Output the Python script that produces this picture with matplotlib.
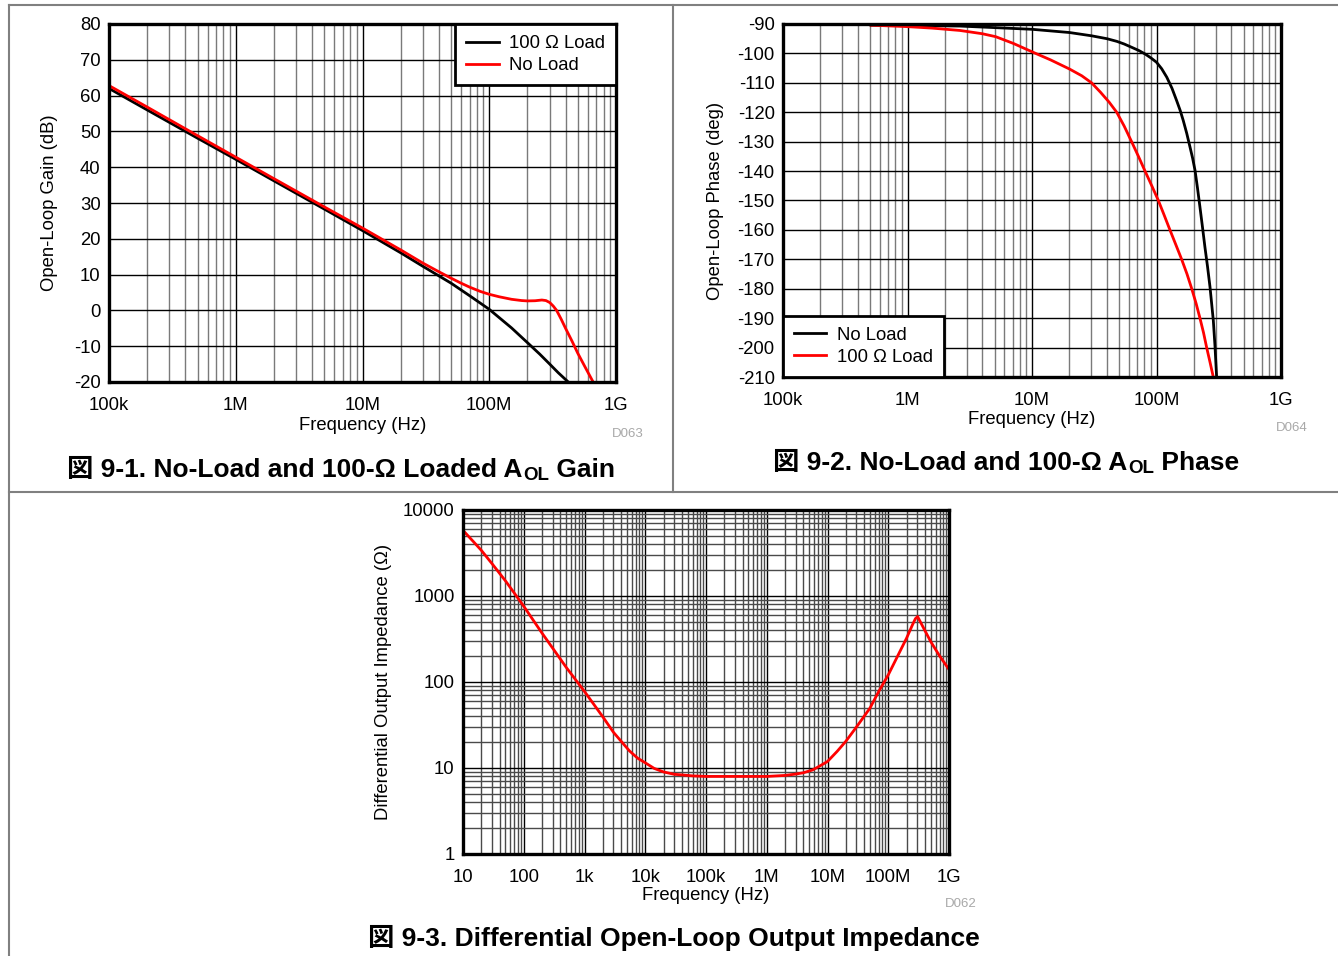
import matplotlib
matplotlib.use("Agg")
import matplotlib.pyplot as plt
from matplotlib.ticker import FixedLocator, NullFormatter, LogLocator
from matplotlib.lines import Line2D

FAM = ['Liberation Sans', 'Noto Sans CJK JP', 'DejaVu Sans']
plt.rcParams['font.family'] = FAM
plt.rcParams['axes.unicode_minus'] = False

# ---------------- data ----------------
# Fig 9-1 : open-loop gain (dB)
gain_freq_100 = [1e5, 2e5, 5e5, 1e6, 2e6, 5e6, 1e7, 2e7, 3e7, 5e7, 7e7, 1e8,
                 1.5e8, 2e8, 2.5e8, 3e8, 3.5e8, 4.2e8]
gain_100ohm = [62.0, 56.0, 48.1, 42.2, 36.2, 28.3, 22.3, 16.1, 12.3, 7.6, 4.1, 0.3,
               -4.9, -9.0, -12.2, -15.0, -17.4, -20.0]
gain_freq_nl = [1e5, 2e5, 5e5, 1e6, 2e6, 5e6, 1e7, 2e7, 3e7, 4e7, 5e7, 6e7, 7e7,
                8.5e7, 1e8, 1.2e8, 1.5e8, 1.8e8, 2e8, 2.3e8, 2.6e8, 2.8e8, 3e8,
                3.2e8, 3.4e8, 3.7e8, 4e8, 4.5e8, 5e8, 5.7e8, 6.6e8]
gain_noload = [62.8, 56.8, 48.8, 42.8, 36.8, 28.9, 23.0, 16.9, 13.2, 10.8, 9.0, 7.6, 6.5,
               5.3, 4.5, 3.8, 3.1, 2.75, 2.65, 2.7, 2.9, 2.75, 2.2,
               1.2, 0.0, -2.5, -5.0, -8.6, -12.0, -15.8, -20.0]

# Fig 9-2 : open-loop phase (deg)
phase_freq_nl = [5.1e5, 1e6, 2.64e6, 1e7, 2e7, 3e7, 4e7, 4.8e7, 5.5e7, 6.3e7, 7.2e7,
                 8.1e7, 9e7, 1e8, 1.1e8, 1.21e8, 1.33e8, 1.45e8, 1.55e8, 1.64e8,
                 1.75e8, 1.86e8, 1.95e8, 2.04e8, 2.13e8, 2.23e8, 2.34e8, 2.45e8,
                 2.57e8, 2.69e8, 2.78e8, 2.86e8, 2.95e8, 3.04e8]
phase_noload = [-90.4, -90.5, -90.7, -91.8, -92.9, -94.0, -95.0, -95.9, -96.8, -97.9,
                -99.0, -100.2, -101.5, -103.0, -105.2, -108.1, -111.8, -116.0,
                -119.4, -122.8, -127.2, -131.9, -135.6, -139.8, -145.5, -152.0,
                -159.0, -165.9, -172.5, -179.4, -185.5, -190.8, -199.5, -210.0]
phase_freq_100 = [5.1e5, 1e6, 1.58e6, 2.64e6, 3.98e6, 5.1e6, 7.08e6, 1.07e7, 1.41e7,
                  2e7, 2.51e7, 3.01e7, 3.55e7, 4.17e7, 4.79e7, 5.5e7, 6.31e7, 7.16e7,
                  8.09e7, 9.12e7, 1.035e8, 1.148e8, 1.282e8, 1.429e8, 1.592e8,
                  1.758e8, 1.919e8, 2.08e8, 2.234e8, 2.388e8, 2.529e8, 2.692e8, 2.858e8]
phase_100ohm = [-90.4, -90.9, -91.4, -92.2, -93.3, -94.3, -96.6, -100.0, -102.2,
                -105.3, -107.6, -110.0, -113.2, -116.6, -120.0, -124.7, -130.0,
                -135.0, -140.0, -144.8, -150.0, -154.8, -160.0, -165.0, -170.0,
                -175.0, -180.0, -185.0, -190.0, -195.0, -200.0, -205.0, -210.0]

# Fig 9-3 : differential output impedance (ohm)
zout_freq = [10, 15, 20, 30, 50, 70, 100, 200, 300, 500, 1e3, 2e3, 3e3, 4e3, 5.5e3,
             7.5e3, 1e4, 1.4e4, 2e4, 3e4, 4.1e4, 6e4, 1e5, 1e6, 2e6, 3e6, 4e6, 5.7e6,
             7.2e6, 1e7, 1.44e7, 2e7, 3e7, 5e7, 7e7, 1e8, 1.5e8, 2e8, 2.5e8, 2.8e8,
             3.04e8, 3.3e8, 4e8, 5e8, 7e8, 1e9]
zout = [5800, 4250, 3400, 2380, 1500, 1080, 760, 370, 247, 148, 77.6, 39.4, 26.0,
        20.5, 15.8, 13.0, 11.5, 9.9, 9.0, 8.45, 8.3, 8.1, 7.98, 7.98, 8.2, 8.5, 8.8,
        9.5, 10.4, 11.9, 15.6, 20.4, 30.0, 49.7, 78.0, 121, 215, 323, 461, 545,
        577, 516, 398, 295, 201, 140]

freq_ticks_12 = [1e5, 1e6, 1e7, 1e8, 1e9]
freq_labels_12 = ['100k', '1M', '10M', '100M', '1G']
gain_ticks = list(range(-20, 81, 10))
phase_ticks = list(range(-210, -89, 10))
freq_ticks_3 = [1e1, 1e2, 1e3, 1e4, 1e5, 1e6, 1e7, 1e8, 1e9]
freq_labels_3 = ['10', '100', '1k', '10k', '100k', '1M', '10M', '100M', '1G']
z_ticks = [1, 10, 100, 1000, 10000]
z_labels = ['1', '10', '100', '1000', '10000']

RED = '#ff0000'
MINOR = '#7a7a7a'
FS = 13.3
CAP = 19

fig = plt.figure(figsize=(13.38, 9.56), dpi=100)
W, H = 1338.0, 956.0


def add_ax(l, t, r, b):
    return fig.add_axes([l / W, 1 - b / H, (r - l) / W, (b - t) / H])


def style(ax, minor_color=MINOR):
    ax.set_axisbelow(True)
    ax.grid(which='major', color='black', lw=1.0)
    ax.grid(which='minor', color=minor_color, lw=1.0)
    for s in ax.spines.values():
        s.set_linewidth(2.4)
    ax.tick_params(which='both', length=0, labelsize=FS)
    ax.tick_params(axis='x', pad=10.5)
    ax.tick_params(axis='y', pad=6)


def legend(ax, loc):
    lg = ax.legend(loc=loc, borderaxespad=0, fontsize=FS, fancybox=False,
                   framealpha=1, edgecolor='black', handlelength=1.75, borderpad=0.6,
                   labelspacing=0.28, handletextpad=0.55)
    lg.get_frame().set_linewidth(2.0)
    return lg


# ---- panel 1 ----
ax1 = add_ax(109, 24, 616, 382)
ax1.plot(gain_freq_100, gain_100ohm, color='black', lw=2.0, label='100 Ω Load')
ax1.plot(gain_freq_nl, gain_noload, color=RED, lw=2.0, label='No Load')
ax1.set_xscale('log')
ax1.set_xlim(1e5, 1e9)
ax1.set_ylim(-20, 80)
ax1.xaxis.set_major_locator(FixedLocator(freq_ticks_12))
ax1.set_xticklabels(freq_labels_12)
ax1.xaxis.set_minor_locator(LogLocator(base=10, subs=range(2, 10), numticks=50))
ax1.xaxis.set_minor_formatter(NullFormatter())
ax1.set_yticks(gain_ticks)
style(ax1)
ax1.set_xlabel('Frequency (Hz)', fontsize=FS)
ax1.set_ylabel('Open-Loop Gain (dB)', fontsize=FS)
ax1.xaxis.set_label_coords(0.5, (382 - 425) / 358)
ax1.xaxis.label.set_va('center')
ax1.yaxis.set_label_coords((50 - 109) / 507, 0.5)
ax1.yaxis.label.set_va('center')
legend(ax1, 'upper right')

# ---- panel 2 ----
ax2 = add_ax(783, 24, 1281, 377)
ax2.plot(phase_freq_nl, phase_noload, color='black', lw=2.0, label='No Load')
ax2.plot(phase_freq_100, phase_100ohm, color=RED, lw=2.0, label='100 Ω Load')
ax2.set_xscale('log')
ax2.set_xlim(1e5, 1e9)
ax2.set_ylim(-210, -90)
ax2.xaxis.set_major_locator(FixedLocator(freq_ticks_12))
ax2.set_xticklabels(freq_labels_12)
ax2.xaxis.set_minor_locator(LogLocator(base=10, subs=range(2, 10), numticks=50))
ax2.xaxis.set_minor_formatter(NullFormatter())
ax2.set_yticks(phase_ticks)
style(ax2)
ax2.set_xlabel('Frequency (Hz)', fontsize=FS)
ax2.set_ylabel('Open-Loop Phase (deg)', fontsize=FS)
ax2.xaxis.set_label_coords(0.5, (377 - 419) / 353)
ax2.xaxis.label.set_va('center')
ax2.yaxis.set_label_coords((716 - 783) / 498, 0.5)
ax2.yaxis.label.set_va('center')
legend(ax2, 'lower left')

# ---- panel 3 ----
ax3 = add_ax(463, 510, 949, 854)
ax3.plot(zout_freq, zout, color=RED, lw=2.0)
ax3.set_xscale('log')
ax3.set_yscale('log')
ax3.set_xlim(10, 1e9)
ax3.set_ylim(1, 10000)
ax3.xaxis.set_major_locator(FixedLocator(freq_ticks_3))
ax3.set_xticklabels(freq_labels_3)
ax3.xaxis.set_minor_locator(LogLocator(base=10, subs=range(2, 10), numticks=100))
ax3.xaxis.set_minor_formatter(NullFormatter())
ax3.yaxis.set_major_locator(FixedLocator(z_ticks))
ax3.set_yticklabels(z_labels)
ax3.yaxis.set_minor_locator(LogLocator(base=10, subs=range(2, 10), numticks=100))
ax3.yaxis.set_minor_formatter(NullFormatter())
style(ax3, minor_color='#4a4a4a')
ax3.set_xlabel('Frequency (Hz)', fontsize=FS)
ax3.set_ylabel('Differential Output Impedance (Ω)', fontsize=FS)
ax3.xaxis.set_label_coords(0.5, (854 - 895) / 344)
ax3.xaxis.label.set_va('center')
ax3.yaxis.set_label_coords((383 - 463) / 486, 0.5)
ax3.yaxis.label.set_va('center')

# ---- small figure ids ----
for x, y, s in [(628, 434, 'D063'), (1292, 428, 'D064'), (961, 904, 'D062')]:
    fig.text(x / W, 1 - y / H, s, color='#a8a8a8', fontsize=9.5, ha='center', va='center')


# ---- captions with subscript ----
def caption(x, y, pre, sub, post):
    t1 = fig.text(x / W, 1 - y / H, pre, fontsize=CAP, weight='bold',
                  family=FAM, va='baseline', ha='left')
    t2 = ax1.annotate(sub, xy=(1, 0), xycoords=t1, xytext=(0.5, -1.5),
                      textcoords='offset points', fontsize=13.5, weight='bold',
                      va='bottom', ha='left', annotation_clip=False)
    t3 = ax1.annotate(post, xy=(1, 0), xycoords=(t2, t1), fontsize=CAP,
                      weight='bold', va='bottom', ha='left', annotation_clip=False)
    return t1, t2, t3


caption(67, 477, '図 9-1. No-Load and 100-Ω Loaded A', 'OL', ' Gain')
caption(773, 470, '図 9-2. No-Load and 100-Ω A', 'OL', ' Phase')
fig.text(368 / W, 1 - 946 / H, '図 9-3. Differential Open-Loop Output Impedance',
         fontsize=CAP, weight='bold', family=FAM, va='baseline', ha='left')

# ---- frame lines ----
GRAY = '#808080'
fig.add_artist(Line2D([9 / W, 1], [1 - 5 / H, 1 - 5 / H], color=GRAY, lw=1.5))
fig.add_artist(Line2D([9 / W, 9 / W], [0, 1 - 5 / H], color=GRAY, lw=1.5))
fig.add_artist(Line2D([673.5 / W, 673.5 / W], [1 - 492 / H, 1 - 5 / H], color=GRAY, lw=1.5))
fig.add_artist(Line2D([9 / W, 1], [1 - 492 / H, 1 - 492 / H], color=GRAY, lw=1.5))

fig.savefig('out.png', dpi=100)
